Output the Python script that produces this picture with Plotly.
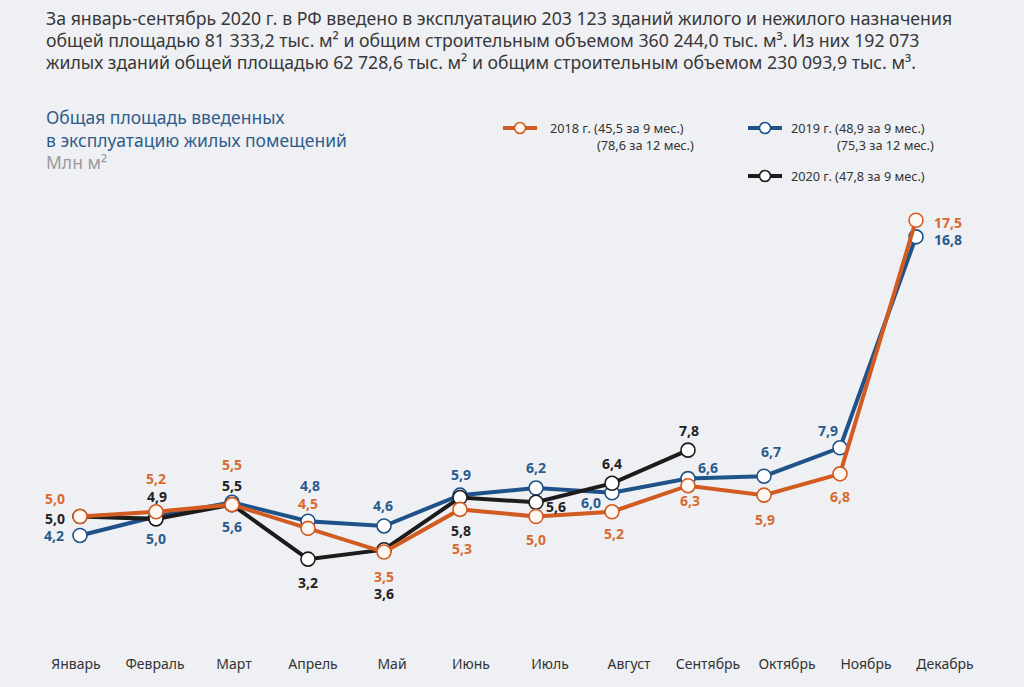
import plotly.graph_objects as go

months = ["Январь", "Февраль", "Март", "Апрель", "Май", "Июнь", "Июль",
          "Август", "Сентябрь", "Октябрь", "Ноябрь", "Декабрь"]
v2018 = [5.0, 5.2, 5.5, 4.5, 3.5, 5.3, 5.0, 5.2, 6.3, 5.9, 6.8, 17.5]
v2019 = [4.2, 5.0, 5.6, 4.8, 4.6, 5.9, 6.2, 6.0, 6.6, 6.7, 7.9, 16.8]
v2020 = [5.0, 4.9, 5.5, 3.2, 3.6, 5.8, 5.6, 6.4, 7.8]

legend_2018 = ["2018 г. (45,5 за 9 мес.)", "(78,6 за 12 мес.)"]
legend_2019 = ["2019 г. (48,9 за 9 мес.)", "(75,3 за 12 мес.)"]
legend_2020 = ["2020 г. (47,8 за 9 мес.)"]

title_lines = [
    "За январь-сентябрь 2020 г. в РФ введено в эксплуатацию 203 123 зданий жилого и нежилого назначения",
    "общей площадью 81 333,2 тыс. м² и общим строительным объемом 360 244,0 тыс. м³. Из них 192 073",
    "жилых зданий общей площадью 62 728,6 тыс. м² и общим строительным объемом 230 093,9 тыс. м³.",
]

# label offsets in pixels (dx, dy-down)
off2018 = [(-25, -18), (0, -33), (0, -40), (0, -25), (0, 24), (2, 39), (0, 23), (2, 22),
           (2, 15), (1, 24), (0, 23), (32, 2)]
off2019 = [(-26, 0), (0, 22), (0, 24), (2, -36), (-1, -20), (1, -21), (0, -21), (-21, 10),
           (20, -11), (7, -25), (-12, -17), (32, 3)]
off2020 = [(-25, 2), (1, -22), (0, -19), (0, 23), (0, 44), (1, 33), (20, 4), (0, -20), (1, -20)]

C18, C19, C20 = "#d25b22", "#1f5288", "#1c1c1c"
T18, T19, T20 = "#d86a30", "#2a5b8d", "#222222"
BG = "#eef0f4"
FONT = "Noto Sans"
W, H = 1024, 687


def px(x):
    return x / W


def py(y):
    return 1 - y / H


fig = go.Figure()
series = [(v2019, C19, "#ffffff", off2019, T19),
          (v2020, C20, "#ffffff", off2020, T20),
          (v2018, C18, "#fff8f2", off2018, T18)]
for vals, col, fill, offs, tcol in series:
    xs = list(range(len(vals)))
    fig.add_trace(go.Scatter(
        x=xs, y=vals, mode="lines+markers",
        line=dict(color=col, width=4),
        marker=dict(size=14, color=fill, line=dict(color=col, width=1.6)),
        showlegend=False, hoverinfo="skip"))
    for i, v in enumerate(vals):
        dx, dy = offs[i]
        fig.add_annotation(x=i, y=v, xref="x", yref="y", showarrow=False,
                           text="<b>" + f"{v:.1f}".replace(".", ",") + "</b>",
                           xshift=dx, yshift=-dy,
                           font=dict(family=FONT, size=14, color=tcol))

# invisible trace for month-label axis
fig.add_trace(go.Scatter(x=list(range(12)), y=[None] * 12, xaxis="x2", mode="markers",
                         showlegend=False, hoverinfo="skip"))

# axes: plot area spans full width, from top to y=ybot px
a1 = -80 / 76
b1 = a1 + W / 76
a2 = -76 / 79
b2 = a2 + W / 79
ybot = 654
ymin = (635 - ybot) / 23.7
ymax = 635 / 23.7

fig.update_layout(
    width=W, height=H,
    margin=dict(l=0, r=0, t=0, b=0),
    paper_bgcolor=BG, plot_bgcolor=BG,
    xaxis=dict(range=[a1, b1], showgrid=False, zeroline=False, showticklabels=False,
               showline=False, domain=[0, 1]),
    xaxis2=dict(range=[a2, b2], overlaying="x", side="bottom", showgrid=False,
                zeroline=False, showline=False, tickmode="array",
                tickvals=list(range(12)), ticktext=months, ticks="",
                tickfont=dict(family=FONT, size=14, color="#333333"), anchor="y"),
    yaxis=dict(range=[ymin, ymax], domain=[1 - ybot / H, 1], showgrid=False,
               zeroline=False, showticklabels=False, showline=False),
    font=dict(family=FONT),
)

# title lines
for k, line in enumerate(title_lines):
    fig.add_annotation(x=px(44), y=py(18 + 22 * k), xref="paper", yref="paper",
                       xanchor="left", yanchor="middle", showarrow=False, text=line,
                       font=dict(family=FONT, size=17.7, color="#383838"))

# subtitle
sub = [("Общая площадь введенных", "#2f5d8c", 117),
       ("в эксплуатацию жилых помещений", "#2f5d8c", 140),
       ("Млн м²", "#9a9a9a", 162)]
for txt, col, yy in sub:
    fig.add_annotation(x=px(44), y=py(yy), xref="paper", yref="paper",
                       xanchor="left", yanchor="middle", showarrow=False, text=txt,
                       font=dict(family=FONT, size=17.5, color=col))

# legend
legend_items = [(legend_2018, C18, "#fff8f2", 503, 128, 548, 595),
                (legend_2019, C19, "#ffffff", 748, 128, 789, 835),
                (legend_2020, C20, "#ffffff", 748, 176, 789, None)]
for texts, col, fill, x0, yy, tx, tx2 in legend_items:
    fig.add_shape(type="line", xref="paper", yref="paper",
                  x0=px(x0), x1=px(x0 + 34), y0=py(yy), y1=py(yy),
                  line=dict(color=col, width=4))
    cx = x0 + 17
    fig.add_shape(type="circle", xref="paper", yref="paper",
                  x0=px(cx - 5.5), x1=px(cx + 5.5), y0=py(yy - 5.5), y1=py(yy + 5.5),
                  line=dict(color=col, width=1.6), fillcolor=fill)
    fig.add_annotation(x=px(tx), y=py(yy), xref="paper", yref="paper",
                       xanchor="left", yanchor="middle", showarrow=False, text=texts[0],
                       font=dict(family=FONT, size=12.7, color="#333333"))
    if len(texts) > 1:
        fig.add_annotation(x=px(tx2), y=py(yy + 17), xref="paper", yref="paper",
                           xanchor="left", yanchor="middle", showarrow=False, text=texts[1],
                           font=dict(family=FONT, size=12.7, color="#333333"))

fig.write_html("out.html", config={"displayModeBar": False},
               post_script="document.body.style.margin='0';document.body.style.padding='0';"
                           "document.body.style.background='" + BG + "';")
